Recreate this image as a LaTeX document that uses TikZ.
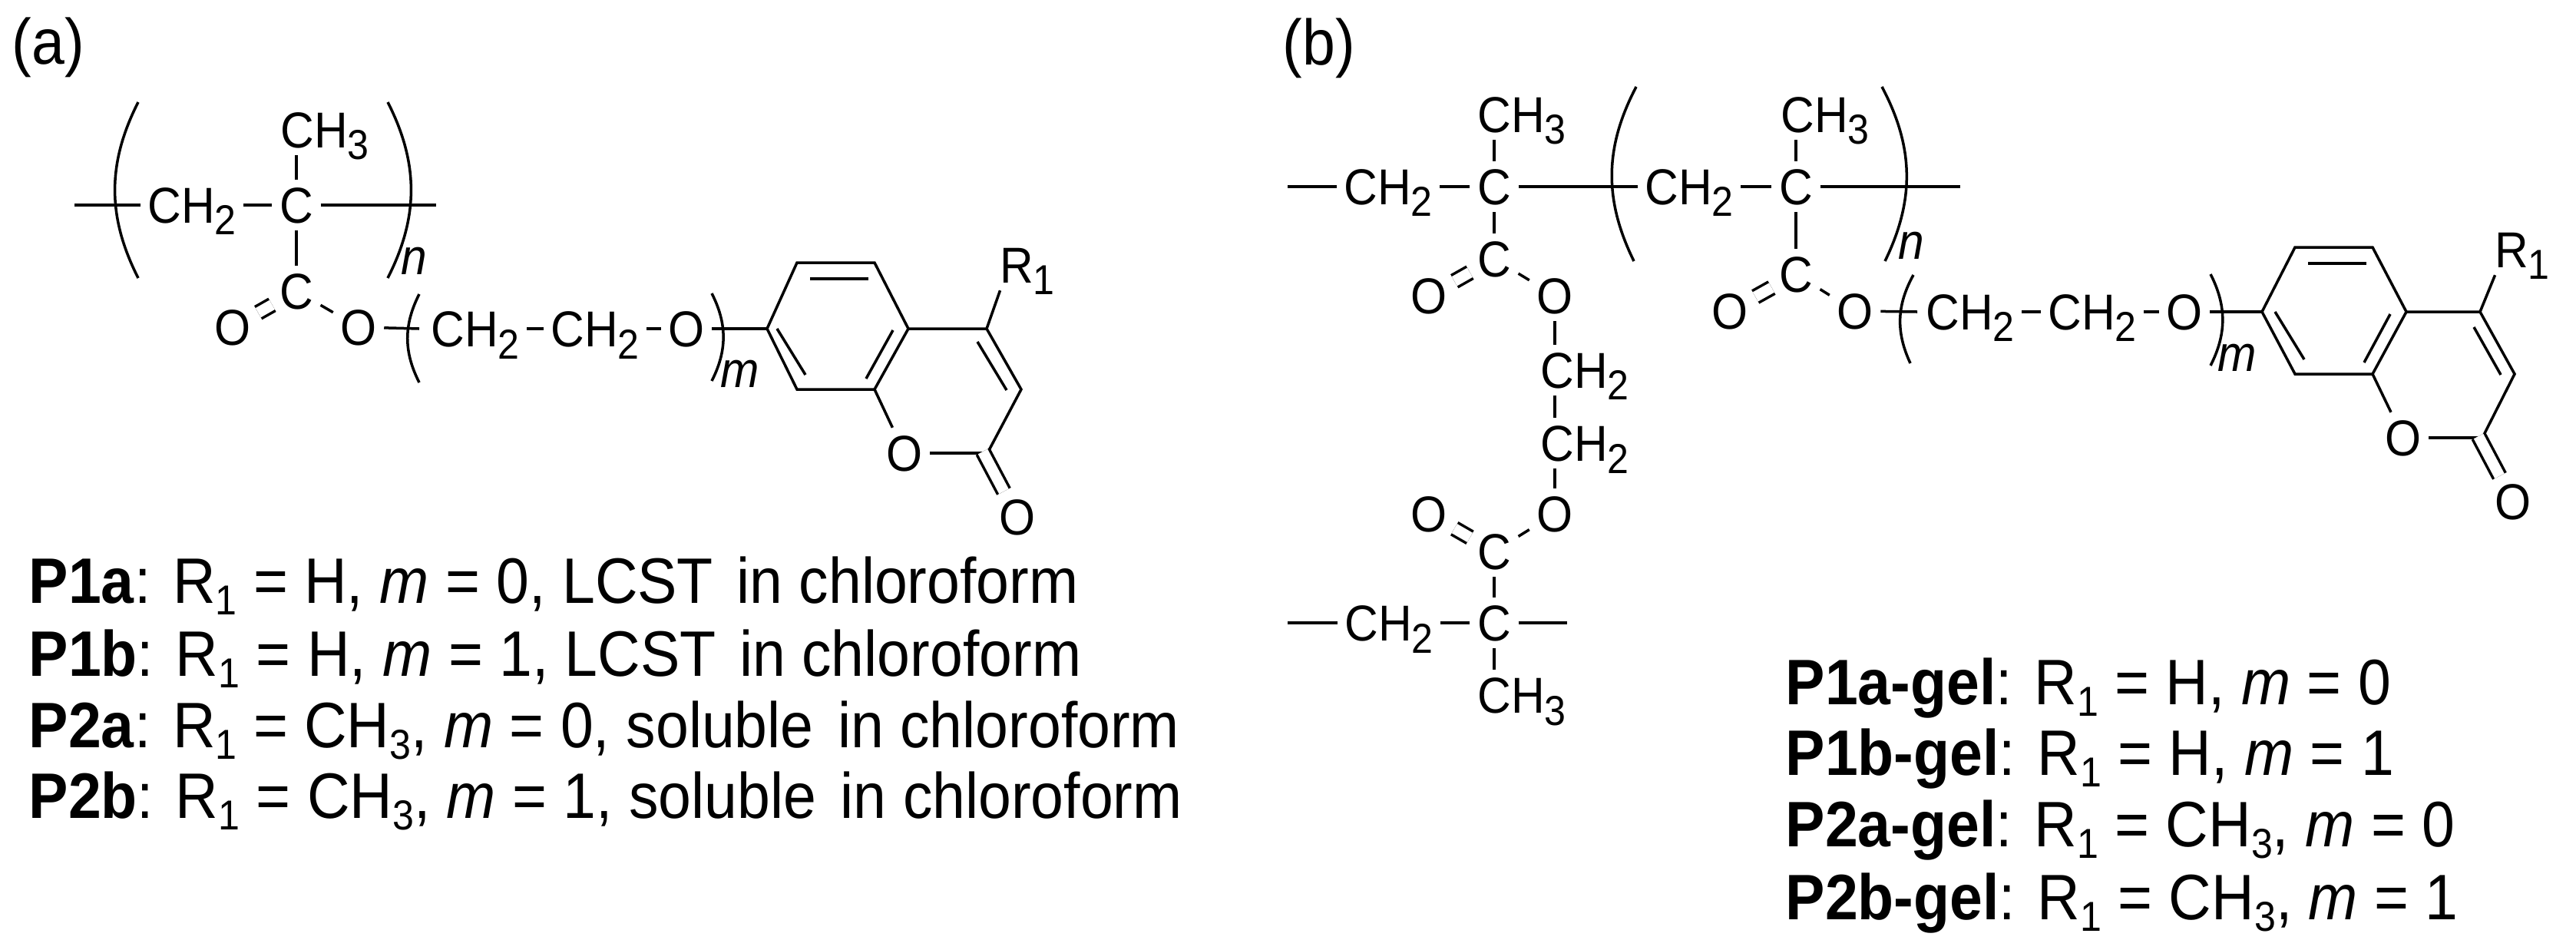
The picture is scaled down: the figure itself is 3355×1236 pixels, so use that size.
\documentclass[tikz,border=0pt]{standalone}
\usepackage{fontspec}
\setmainfont[FakeStretch=0.92]{Liberation Sans}
\usetikzlibrary{positioning}
\newcommand{\idx}[1]{\raisebox{-4.4pt}{\fontsize{15.5}{16}\selectfont #1}}
\tikzset{
  bond/.style={line width=0.035cm},
  dbl/.style={line width=0.035cm,double,double distance=0.14cm},
  lpar/.style={bend right=27},
  rpar/.style={bend left=27},
  atom/.style={font=\fontsize{18.7}{20}\selectfont,text height=0.47cm,text depth=0pt,inner sep=0.09cm},
  rep/.style={font=\fontsize{18.7}{20}\selectfont\itshape,anchor=base,inner sep=0pt},
  entry/.style={font=\fontsize{23.8}{26}\selectfont,anchor=base west,inner sep=0pt}
}
\begin{document}
\begin{tikzpicture}[x=0.01cm,y=-0.01cm]
\useasboundingbox (0,0) rectangle (3355,1236);
\node[entry] (pa) at (15,83) {(a)};
\node[entry] (pb) at (1670,84) {(b)};
\node[atom] (ach2) at (250,267) {CH\idx{2}};
\node[atom] (ac) at (386,267) {C};
\node[atom] (ach3) at (423,169) {CH\idx{3}};
\node[atom] (acc) at (386,379) {C};
\node[atom] (aoa) at (303,426) {O};
\node[atom] (aob) at (467,426) {O};
\node[atom] (ach2x) at (619,428) {CH\idx{2}};
\node[atom] (ach2y) at (775,428) {CH\idx{2}};
\node[atom] (aoc) at (894,428) {O};
\node[atom] (aor) at (1178,590) {O};
\node[atom] (aoo) at (1325,673) {O};
\node[atom] (aR) at (1338,345) {R\idx{1}};
\node[rep] (an) at (539,357) {n};
\node[rep] (am) at (964,504) {m};
\coordinate (as) at (97,267);
\coordinate (ae) at (568,267);
\coordinate (apa) at (180,133);
\coordinate (apb) at (180,362);
\coordinate (apc) at (505,133);
\coordinate (apd) at (505,362);
\coordinate (ape) at (546,383);
\coordinate (apf) at (546,498);
\coordinate (apg) at (927,382);
\coordinate (aph) at (927,496);
\coordinate (ax) at (546,428);
\coordinate (ar1) at (999,428);
\coordinate (ar2) at (1038,342);
\coordinate (ar3) at (1139,342);
\coordinate (ar4) at (1183,428);
\coordinate (ar5) at (1139,507);
\coordinate (ar6) at (1038,507);
\coordinate (ar7) at (1285,428);
\coordinate (ar8) at (1330,507);
\coordinate (ar9) at (1286,590);
\coordinate (ar0) at (1280,588);
\coordinate (ai1) at (1055,363);
\coordinate (ai2) at (1131,363);
\coordinate (ai3) at (1012,428);
\coordinate (ai4) at (1049,488);
\coordinate (ai5) at (1163,430);
\coordinate (ai6) at (1128,493);
\coordinate (ai7) at (1273,445);
\coordinate (ai8) at (1311,508);
\draw[bond] (as) -- (ach2);
\draw[bond] (ach2) -- (ac);
\draw[bond] (ac) -- (ae);
\draw[bond] (ac) -- (ac |- ach3.south);
\draw[bond] (ac) -- (acc);
\draw[dbl] (acc) -- (aoa);
\draw[bond] (acc) -- (aob);
\draw[bond] (aob) -- (ax);
\draw[bond] (ach2x) -- (ach2y);
\draw[bond] (ach2y) -- (aoc);
\draw[bond] (aoc) -- (ar1);
\draw[bond] (apa) to[lpar] (apb);
\draw[bond] (apc) to[rpar] (apd);
\draw[bond] (ape) to[lpar] (apf);
\draw[bond] (apg) to[rpar] (aph);
\draw[bond] (ar1) -- (ar2) -- (ar3) -- (ar4) -- (ar5) -- (ar6) -- cycle;
\draw[bond] (ai1) -- (ai2);
\draw[bond] (ai3) -- (ai4);
\draw[bond] (ai5) -- (ai6);
\draw[bond] (ai7) -- (ai8);
\draw[bond] (ar4) -- (ar7) -- (ar8) -- (ar9);
\draw[bond] (ar5) -- (aor);
\draw[bond] (aor) -- (ar9);
\draw[dbl] (ar0) -- (aoo);
\draw[bond] (ar7) -- ([xshift=0.1cm]aR.south west);
\node[atom] (bch2a) at (1808,243) {CH\idx{2}};
\node[atom] (bca) at (1946,243) {C};
\node[atom] (bch3a) at (1982,149) {CH\idx{3}};
\node[atom] (bcca) at (1946,337) {C};
\node[atom] (boa) at (1861,385) {O};
\node[atom] (bob) at (2025,385) {O};
\node[atom] (bch2c) at (2064,482) {CH\idx{2}};
\node[atom] (bch2d) at (2064,577) {CH\idx{2}};
\node[atom] (boc) at (2025,669) {O};
\node[atom] (bod) at (1861,669) {O};
\node[atom] (bccb) at (1946,718) {C};
\node[atom] (bch2e) at (1809,811) {CH\idx{2}};
\node[atom] (bcb) at (1946,811) {C};
\node[atom] (bch3b) at (1982,905) {CH\idx{3}};
\node[atom] (bch2b) at (2200,243) {CH\idx{2}};
\node[atom] (bcc) at (2339,243) {C};
\node[atom] (bch3c) at (2377,149) {CH\idx{3}};
\node[atom] (bccc) at (2339,357) {C};
\node[atom] (boe) at (2253,405) {O};
\node[atom] (bof) at (2416,405) {O};
\node[atom] (bch2x) at (2566,406) {CH\idx{2}};
\node[atom] (bch2y) at (2725,406) {CH\idx{2}};
\node[atom] (bog) at (2845,406) {O};
\node[atom] (bor) at (3130,570) {O};
\node[atom] (boo) at (3273,653) {O};
\node[atom] (bR) at (3285,325) {R\idx{1}};
\node[rep] (bn) at (2489,337) {n};
\node[rep] (bm) at (2914,483) {m};
\coordinate (bs) at (1677,243);
\coordinate (be) at (2553,243);
\coordinate (bt) at (1677,811);
\coordinate (bu) at (2041,811);
\coordinate (bpa) at (2131,113);
\coordinate (bpb) at (2128,340);
\coordinate (bpc) at (2451,113);
\coordinate (bpd) at (2455,340);
\coordinate (bpe) at (2492,358);
\coordinate (bpf) at (2488,473);
\coordinate (bpg) at (2879,357);
\coordinate (bph) at (2879,476);
\coordinate (bx) at (2497,406);
\coordinate (br1) at (2946,406);
\coordinate (br2) at (2989,322);
\coordinate (br3) at (3090,322);
\coordinate (br4) at (3134,406);
\coordinate (br5) at (3090,487);
\coordinate (br6) at (2989,487);
\coordinate (br7) at (3230,406);
\coordinate (br8) at (3275,487);
\coordinate (br9) at (3233,570);
\coordinate (br0) at (3228,568);
\coordinate (bi1) at (3006,343);
\coordinate (bi2) at (3082,343);
\coordinate (bi3) at (2963,406);
\coordinate (bi4) at (3001,468);
\coordinate (bi5) at (3113,409);
\coordinate (bi6) at (3079,472);
\coordinate (bi7) at (3222,426);
\coordinate (bi8) at (3257,488);
\draw[bond] (bs) -- (bch2a);
\draw[bond] (bch2a) -- (bca);
\draw[bond] (bca) -- (bch2b);
\draw[bond] (bch2b) -- (bcc);
\draw[bond] (bcc) -- (be);
\draw[bond] (bca) -- (bca |- bch3a.south);
\draw[bond] (bcc) -- (bcc |- bch3c.south);
\draw[bond] (bca) -- (bcca);
\draw[bond] (bcc) -- (bccc);
\draw[dbl] (bcca) -- (boa);
\draw[bond] (bcca) -- (bob);
\draw[bond] (bob) -- (bob |- bch2c.north);
\draw[bond] (bob |- bch2c.south) -- (bob |- bch2d.north);
\draw[bond] (boc) -- (boc |- bch2d.south);
\draw[bond] (bccb) -- (boc);
\draw[dbl] (bccb) -- (bod);
\draw[bond] (bccb) -- (bcb);
\draw[bond] (bt) -- (bch2e);
\draw[bond] (bch2e) -- (bcb);
\draw[bond] (bcb) -- (bu);
\draw[bond] (bcb) -- (bcb |- bch3b.north);
\draw[dbl] (bccc) -- (boe);
\draw[bond] (bccc) -- (bof);
\draw[bond] (bof) -- (bx);
\draw[bond] (bch2x) -- (bch2y);
\draw[bond] (bch2y) -- (bog);
\draw[bond] (bog) -- (br1);
\draw[bond] (bpa) to[lpar] (bpb);
\draw[bond] (bpc) to[rpar] (bpd);
\draw[bond] (bpe) to[lpar] (bpf);
\draw[bond] (bpg) to[rpar] (bph);
\draw[bond] (br1) -- (br2) -- (br3) -- (br4) -- (br5) -- (br6) -- cycle;
\draw[bond] (bi1) -- (bi2);
\draw[bond] (bi3) -- (bi4);
\draw[bond] (bi5) -- (bi6);
\draw[bond] (bi7) -- (bi8);
\draw[bond] (br4) -- (br7) -- (br8) -- (br9);
\draw[bond] (br5) -- (bor);
\draw[bond] (bor) -- (br9);
\draw[dbl] (br0) -- (boo);
\draw[bond] (br7) -- ([xshift=0.1cm]bR.south west);
\node[entry] (la) at (37,785) {\textbf{P1a}: R\idx{1} = H, \textit{m} = 0, LCST\hspace{0.09cm} in chloroform};
\node[entry] (lb) at (37,880) {\textbf{P1b}: R\idx{1} = H, \textit{m} = 1, LCST\hspace{0.09cm} in chloroform};
\node[entry] (lc) at (37,973) {\textbf{P2a}: R\idx{1} = CH\idx{3}, \textit{m} = 0, soluble\hspace{0.1cm} in chloroform};
\node[entry] (ld) at (37,1065) {\textbf{P2b}: R\idx{1} = CH\idx{3}, \textit{m} = 1, soluble\hspace{0.1cm} in chloroform};
\node[entry] (ga) at (2325,917) {\textbf{P1a-gel}: R\idx{1} = H, \textit{m} = 0};
\node[entry] (gb) at (2325,1009) {\textbf{P1b-gel}: R\idx{1} = H, \textit{m} = 1};
\node[entry] (gc) at (2325,1102) {\textbf{P2a-gel}: R\idx{1} = CH\idx{3}, \textit{m} = 0};
\node[entry] (gd) at (2325,1197) {\textbf{P2b-gel}: R\idx{1} = CH\idx{3}, \textit{m} = 1};
\end{tikzpicture}
\end{document}
